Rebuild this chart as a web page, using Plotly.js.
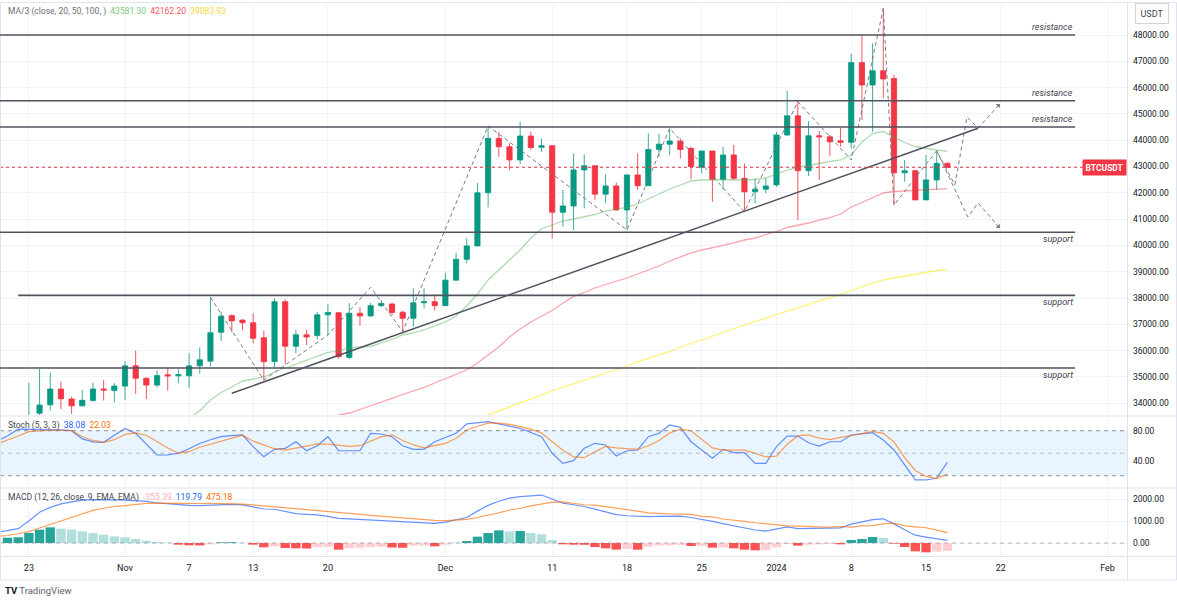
<!DOCTYPE html>
<html><head><meta charset="utf-8">
<script src="https://cdn.plot.ly/plotly-3.0.1.min.js"></script>
<style>html,body{margin:0;padding:0;background:#fff;}#chart{width:1177px;height:604px;}</style>
</head><body><div id="chart"></div>
<script>
// ---------- DATA ----------
const candleStart = '2023-10-23';
const opens = [30000,33620,33940,34540,34160,33900,34100,34540,34480,34650,
35420,34950,34690,35080,35040,35040,35420,35600,36700,37330,
37160,37060,36490,35590,37860,36170,36600,36570,37360,37440,
35740,37420,37320,37710,37770,37460,37230,37820,37860,37710,
38680,39470,39980,42000,44070,43750,43250,44160,43730,43790,
41260,41500,42870,43030,41950,42260,41350,42680,42270,43650,
43850,43970,43690,42970,43590,42510,43440,42550,42040,42140,
42300,44200,44930,42840,44170,44130,43980,43920,46950,46100,
46640,46350,42760,42840,41730,42490,43120];
const highs = [34770,35300,35160,34820,34250,34500,34790,34880,34760,35600,
36000,34980,35260,35360,35290,35900,36120,38030,37480,37380,
37190,37420,36760,37990,37950,36790,36790,37480,37760,37480,
37800,37650,37820,37920,37820,37510,38370,38370,38140,38960,
39720,40270,42380,44540,44320,43880,44700,44320,44070,43790,
42110,43500,43460,43030,42710,42380,42710,43500,44260,44240,
44410,44070,43750,43590,43590,43750,43820,43120,42550,42550,
44320,45880,45530,44730,44350,44200,44480,47280,48000,47680,
49010,46480,43250,42870,43440,43560,43160];
const lows = [29900,32900,33715,33780,33590,33880,34060,34100,34030,34120,
34350,34160,34600,34480,34760,34570,35130,35400,36370,36700,
36790,36280,34880,35370,35480,35900,36210,36430,36590,35700,
35670,36940,37290,37650,37350,36720,36910,37610,37520,37700,
38660,39320,39980,41450,43370,42870,43090,43630,43560,40270,
40710,40590,41410,41730,41620,41320,40590,42110,42270,43370,
43440,43310,42510,42740,41660,42110,42490,41280,41600,41980,
42230,44160,40970,42640,42490,43410,43750,43690,44770,44320,
45590,41540,42420,41730,41730,42110,42960];
const closes = [33080,33930,34540,34170,33900,34110,34540,34500,34650,35420,
34950,34690,35050,35040,35080,35420,35650,36680,37310,37130,
37060,36470,35580,37860,36170,36600,36520,37360,37450,35770,
37420,37320,37710,37790,37450,37230,37820,37860,37710,38680,
39470,39980,42000,44070,43750,43250,44160,43720,43790,41260,
41500,42870,43030,41950,42260,41350,42680,42270,43650,43850,
43970,43650,43000,43590,42510,43440,42550,42040,42140,42260,
44200,44930,42840,44170,44130,43940,43920,46950,46100,46640,
46330,42760,42840,41730,42490,43120,42970];

const ma20Start = '2023-11-07';
const ma20 = [33450,33704,34122,34407,34617,34845,34921,34997,35187,35339,35491,35644,35796,35929,35986,
36100,36138,36157,36290,36423,36594,36670,36784,36936,37089,37317,37697,38153,38686,39065,
39445,39826,40282,40624,40776,40928,41004,41099,41175,41308,41366,41442,41575,41765,41955,
42145,42297,42449,42487,42506,42506,42487,42487,42506,42563,42715,42867,42962,43038,43134,
43190,43248,43438,43932,44255,44331,44122,43913,43761,43685,43628,43581.30];
const ma50Start = '2023-11-21';
const ma50 = [33553,33628,33761,33894,34047,34180,34332,34465,34598,34769,34940,35092,35263,35529,35834,
36138,36518,36822,37089,37317,37526,37811,38050,38210,38381,38514,38628,38761,38913,39065,
39217,39407,39560,39712,39826,39902,39997,40092,40206,40282,40396,40529,40681,40757,40852,
40966,41061,41194,41460,41632,41803,41993,42050,42069,42088,42107,42145,42162.20];
const ma100Start = '2023-12-05';
const ma100 = [33553,33704,33856,34028,34180,34313,34465,34598,34731,34864,34997,35149,35282,35415,35568,
35701,35834,35967,36138,36271,36423,36556,36689,36822,36974,37107,37240,37374,37507,37640,
37773,37887,38001,38134,38286,38438,38571,38685,38761,38837,38913,38989,39046,39083.93];

const oscStart = '2023-10-20';
const stochK = [66,73,82,82,81,81,81,80,69,65,64.5,74,83,76.5,62,47.6,47.6,50,56,63,
68,72,73.5,74.3,58.7,45.3,55.2,56.5,65.3,53.3,60,72,53.3,53.3,53.3,76.5,75.6,72,60,55.2,
55.2,65.3,71,76.5,89,91,92,89,85.6,83.2,77.6,72,49.9,36.5,40,56.5,63.2,61,46.3,53.3,
54.3,72,76.5,87.6,84.5,65.3,54.3,43.2,55.2,50.7,50.7,36.5,36.5,58.7,72.9,72.9,64,59.6,65.3,65.3,
74.3,75.6,77.3,67.6,54.3,34.3,14.3,14.3,16.5,38.08];
const stochD = [62,67,73,78.7,80,80.9,80.5,80,72,67,64.5,68,75,77,74,65,57,50,52,58,
62,66,70,74,66,61,56,54,57,59,62,62,61,59,60,66,72,74.5,67,61,
57,60,63,70,81,86,90,90,88.5,85.5,82,77,66,54,45,44,52,59,57,56,
55,60,67,77,82,80,68,57,54,54,54,50,45,46,62,73,74.5,70,68,71,
73,76,79,76.5,65,44,27,19,16.5,22.03];
const macdLine = [480,560,650,1000,1400,1620,1780,1870,1950,1975,1985,1965,1950,1930,1890,1820,1775,1730,1712,1695,
1725,1760,1760,1737,1650,1545,1535,1450,1340,1305,1280,1210,1120,1100,1076,1060,1040,1000,965,945,
920,895,950,1050,1160,1450,1710,1900,2040,2110,2145,2180,2000,1810,1740,1660,1540,1420,1290,1240,
1210,1200,1210,1220,1222,1160,1080,980,880,780,680,590,540,650,730,650,660,670,680,690,
860,960,1060,1100,870,600,355,270,190,119.79];
const signalLine = [300,340,420,520,680,840,1010,1180,1330,1480,1580,1660,1700,1760,1800,1810,1800,1790,1790,1795,
1800,1795,1780,1770,1730,1680,1640,1600,1560,1520,1470,1420,1380,1340,1300,1260,1220,1190,1160,1110,
1060,1030,1020,1040,1070,1160,1260,1370,1500,1570,1690,1790,1860,1870,1815,1740,1720,1660,1590,1510,
1450,1370,1330,1320,1310,1300,1210,1190,1090,1020,980,920,870,850,775,770,736,731,725,750,
724,778,787,873,900,782,734,694,584,475.18];
const histStart = '2023-10-21';
const histValues = [240,262,455,606,712,652,606,530,455,379,303,258,182,106,45,15,-76,-106,-110,-61,
30,35,15,-76,-197,-152,-227,-242,-250,-182,-175,-303,-242,-212,-182,-167,-205,-215,-121,-118,
-152,-76,8,91,288,455,576,530,545,455,394,136,-61,-76,-80,-182,-242,-303,-273,-303,
-167,-121,-106,-91,-136,-130,-212,-205,-242,-303,-333,-325,-197,-45,-121,-76,-61,-45,-61,136,
182,273,227,-30,-182,-379,-424,-394,-355.39];

// horizontal levels (drawing tools)
const levelPrices = [48000, 45500, 44500, 40500, 38100, 35340];
const levelLabels = ['resistance','resistance','resistance','support','support','support'];
const levelStarts = ['2023-10-20 07:00','2023-10-20 07:00','2023-10-20 07:00','2023-10-20 07:00','2023-10-22 00:00','2023-10-20 07:00'];
const levelEnd = '2024-01-28 23:00';
// trend line
const trendDates = ['2023-11-11 00:00','2024-01-19 21:00'];
const trendPrices = [34378, 44453];
// zigzag pattern
const zzDates = ['2023-11-09','2023-11-14','2023-11-20','2023-11-24','2023-11-27','2023-12-05','2023-12-18','2023-12-22','2023-12-29','2024-01-03','2024-01-08','2024-01-11','2024-01-12','2024-01-16','2024-01-17 17:00'];
const zzPrices = [38027,34880,36594,38408,36720,44540,40586,44453,41282,45464,43248,49015,41537,43601,42297];
const upDates = ['2024-01-17 17:00','2024-01-18 20:00','2024-01-19 21:00','2024-01-21 22:00'];
const upPrices = [42297,44882,44464,45377];
const downDates = ['2024-01-16','2024-01-18 22:00','2024-01-19 21:00','2024-01-21 22:00'];
const downPrices = [43601,41080,41613,40662];

const tickDates = ['2023-10-23','2023-11-01','2023-11-07','2023-11-13','2023-11-20','2023-12-01','2023-12-11','2023-12-18','2023-12-25','2024-01-01','2024-01-08','2024-01-15','2024-01-22','2024-02-01'];
const tickTexts = ['23','Nov','7','13','20','Dec','11','18','25','2024','8','15','22','Feb'];
const priceTicks = [34000,35000,36000,37000,38000,39000,40000,41000,42000,43000,44000,45000,46000,47000,48000];
const stochTicks = [40, 80];
const macdTicks = [0, 1000, 2000];

// ---------- HELPERS ----------
function days(start, n){
  const p = start.split('-').map(Number);
  const t0 = Date.UTC(p[0], p[1]-1, p[2]);
  const out = [];
  for (let i=0;i<n;i++) out.push(new Date(t0 + i*86400000).toISOString().slice(0,10));
  return out;
}
const W = 1127, TOP = 5, BOT = 556, H = BOT - TOP;
const px = p => p / W;
const py = p => (BOT - p) / H;

const cDates = days(candleStart, closes.length);
const oDates = days(oscStart, stochK.length);
const hDates = days(histStart, histValues.length);

const histColors = histValues.map((v,i) => {
  const prev = i>0 ? histValues[i-1] : -Infinity;
  if (v >= 0) return v >= prev ? '#26a69a' : '#b2dfdb';
  return v < prev ? '#ff5252' : '#ffcdd2';
});

const GREEN = '#089981', RED = '#f23645', GRAY = '#787b86', DARK = '#50535e';

const traces = [
  {type:'scatter', mode:'lines', x:days(ma100Start, ma100.length), y:ma100, line:{color:'rgba(255,235,59,0.7)', width:1.3}, xaxis:'x', yaxis:'y', hoverinfo:'skip'},
  {type:'scatter', mode:'lines', x:days(ma50Start, ma50.length), y:ma50, line:{color:'rgba(242,54,69,0.45)', width:1.3}, xaxis:'x', yaxis:'y', hoverinfo:'skip'},
  {type:'scatter', mode:'lines', x:days(ma20Start, ma20.length), y:ma20, line:{color:'rgba(76,175,80,0.45)', width:1.3}, xaxis:'x', yaxis:'y', hoverinfo:'skip'},
  {type:'candlestick', x:cDates, open:opens, high:highs, low:lows, close:closes, xaxis:'x', yaxis:'y',
   increasing:{line:{color:'rgba(8,153,129,0.8)', width:1}, fillcolor:GREEN},
   decreasing:{line:{color:'rgba(242,54,69,0.85)', width:1}, fillcolor:RED},
   whiskerwidth:0, hoverinfo:'skip'},
  {type:'scatter', mode:'lines', x:zzDates, y:zzPrices, line:{color:GRAY, width:1, dash:'4px,3px'}, xaxis:'x', yaxis:'y', hoverinfo:'skip'},
  {type:'scatter', mode:'lines', x:upDates, y:upPrices, line:{color:GRAY, width:1, dash:'4px,3px'}, xaxis:'x', yaxis:'y', hoverinfo:'skip'},
  {type:'scatter', mode:'lines', x:downDates, y:downPrices, line:{color:GRAY, width:1, dash:'4px,3px'}, xaxis:'x', yaxis:'y', hoverinfo:'skip'},
  {type:'scatter', mode:'lines', x:trendDates, y:trendPrices, line:{color:DARK, width:1.5}, xaxis:'x', yaxis:'y', hoverinfo:'skip'},
  // stochastic
  {type:'scatter', mode:'lines', x:oDates, y:stochK, line:{color:'rgba(41,98,255,0.7)', width:1.2}, xaxis:'x', yaxis:'y2', hoverinfo:'skip'},
  {type:'scatter', mode:'lines', x:oDates, y:stochD, line:{color:'rgba(255,109,0,0.65)', width:1.2}, xaxis:'x', yaxis:'y2', hoverinfo:'skip'},
  // MACD
  {type:'bar', x:hDates, y:histValues, marker:{color:histColors, line:{width:0}}, xaxis:'x', yaxis:'y3', hoverinfo:'skip'},
  {type:'scatter', mode:'lines', x:oDates, y:macdLine, line:{color:'rgba(41,98,255,0.7)', width:1.2}, xaxis:'x', yaxis:'y3', hoverinfo:'skip'},
  {type:'scatter', mode:'lines', x:oDates, y:signalLine, line:{color:'rgba(255,109,0,0.65)', width:1.2}, xaxis:'x', yaxis:'y3', hoverinfo:'skip'}
];

const lastClose = closes[closes.length-1];
const SEP = '#e0e3eb';
const shapes = [
  {type:'rect', xref:'paper', x0:0, x1:1, yref:'y2', y0:20, y1:80, fillcolor:'rgba(33,150,243,0.1)', line:{width:0}, layer:'below'},
  {type:'line', xref:'paper', x0:0, x1:1, yref:'y2', y0:80, y1:80, line:{color:'rgba(120,123,134,0.8)', width:1, dash:'4px,4px'}},
  {type:'line', xref:'paper', x0:0, x1:1, yref:'y2', y0:50, y1:50, line:{color:'rgba(120,123,134,0.45)', width:1, dash:'4px,4px'}},
  {type:'line', xref:'paper', x0:0, x1:1, yref:'y2', y0:20, y1:20, line:{color:'rgba(120,123,134,0.8)', width:1, dash:'4px,4px'}},
  {type:'line', xref:'paper', x0:0, x1:1, yref:'y3', y0:0, y1:0, line:{color:'rgba(120,123,134,0.55)', width:1, dash:'4px,4px'}},
  {type:'line', xref:'paper', x0:0, x1:1, yref:'y', y0:lastClose, y1:lastClose, line:{color:RED, width:1, dash:'dot'}},
  // pane separators and frame
  {type:'line', xref:'paper', yref:'paper', x0:0, x1:px(1176), y0:py(416), y1:py(416), line:{color:SEP, width:1}},
  {type:'line', xref:'paper', yref:'paper', x0:0, x1:px(1176), y0:py(488), y1:py(488), line:{color:SEP, width:1}},
  {type:'line', xref:'paper', yref:'paper', x0:0, x1:px(1176), y0:py(556.5), y1:py(556.5), line:{color:SEP, width:1}},
  {type:'line', xref:'paper', yref:'paper', x0:px(1127.5), x1:px(1127.5), y0:py(580), y1:py(2), line:{color:SEP, width:1}},
  {type:'rect', xref:'paper', yref:'paper', x0:px(0.5), x1:px(1176.5), y0:py(580), y1:py(2.5), line:{color:SEP, width:1}, fillcolor:'rgba(0,0,0,0)'}
];
levelPrices.forEach((p,i) => {
  shapes.push({type:'line', xref:'x', yref:'y', x0:levelStarts[i], x1:levelEnd, y0:p, y1:p, line:{color:DARK, width:1.6}});
});

const annotations = [];
levelPrices.forEach((p,i) => {
  const res = levelLabels[i] === 'resistance';
  annotations.push({xref:'x', yref:'y', x:levelEnd, y:p, text:levelLabels[i], showarrow:false,
    xanchor:'right', yanchor: res ? 'bottom' : 'top', yshift: res ? 1 : 0,
    font:{size:9, color:'#434651', style:'italic'}});
});
annotations.push({xref:'paper', yref:'y', x:1, y:lastClose, xanchor:'right', yanchor:'middle', showarrow:false,
  text:'<b>BTCUSDT</b>', font:{size:8.5, color:'#ffffff'}, bgcolor:RED, borderpad:2.5});
annotations.push({xref:'paper', yref:'paper', x:px(1152), y:py(14), xanchor:'center', yanchor:'middle', showarrow:false,
  text:'USDT', font:{size:9, color:'#434651'}, bgcolor:'#ffffff', bordercolor:'#d1d4dc', borderwidth:1, borderpad:4.5});
const f2 = v => v.toFixed(2);
annotations.push({xref:'paper', yref:'paper', x:px(6), y:py(12), xanchor:'left', yanchor:'middle', showarrow:false,
  text:'<span style="color:#6a6d78">MA/3 (close, 20, 50, 100, )</span>  <span style="color:#81c784">'+f2(ma20[ma20.length-1])+'</span>  <span style="color:#f7525f">'+f2(ma50[ma50.length-1])+'</span>  <span style="color:#fdd835">'+f2(ma100[ma100.length-1])+'</span>',
  font:{size:8.5}});
annotations.push({xref:'paper', yref:'paper', x:px(6), y:py(425), xanchor:'left', yanchor:'middle', showarrow:false,
  text:'<span style="color:#434651">Stoch (5, 3, 3)</span>  <span style="color:#2962ff">'+f2(stochK[stochK.length-1])+'</span>  <span style="color:#ff6d00">'+f2(stochD[stochD.length-1])+'</span>',
  font:{size:8.5}});
annotations.push({xref:'paper', yref:'paper', x:px(6), y:py(497), xanchor:'left', yanchor:'middle', showarrow:false,
  text:'<span style="color:#434651">MACD (12, 26, close, 9, EMA, EMA)</span>  <span style="color:#ffb3ba">'+f2(histValues[histValues.length-1])+'</span>  <span style="color:#2962ff">'+f2(macdLine[macdLine.length-1])+'</span>  <span style="color:#ff6d00">'+f2(signalLine[signalLine.length-1])+'</span>',
  font:{size:8.5}});
annotations.push({xref:'x', yref:'y', x:upDates[upDates.length-1], y:upPrices[upPrices.length-1], ax:-5, ay:5, text:'', showarrow:true, arrowhead:1, arrowsize:1, arrowwidth:1, arrowcolor:GRAY});
annotations.push({xref:'x', yref:'y', x:downDates[downDates.length-1], y:downPrices[downPrices.length-1], ax:-5, ay:-5, text:'', showarrow:true, arrowhead:1, arrowsize:1, arrowwidth:1, arrowcolor:GRAY});
annotations.push({xref:'paper', yref:'paper', x:px(3), y:py(590), xanchor:'left', yanchor:'middle', showarrow:false,
  text:'<b><span style="color:#131722">TV</span></b> <span style="color:#5d606b">TradingView</span>', font:{size:9.5}});

const GRID = '#f0f3fa';
const yBase = {side:'right', anchor:'x', zeroline:false, showline:false, ticks:'', gridcolor:GRID, tickformat:'.2f',
  tickfont:{size:8.5, color:'#131722'}, ticklabelstandoff:5, fixedrange:true};
const layout = {
  width:1177, height:604,
  margin:{l:0, r:50, t:TOP, b:604-BOT},
  paper_bgcolor:'#ffffff', plot_bgcolor:'#ffffff',
  font:{family:'Roboto, "Noto Sans", sans-serif', size:8.5, color:'#131722'},
  showlegend:false, bargap:0.12, dragmode:false,
  xaxis:{type:'date', anchor:'y3', range:['2023-10-20 07:06','2024-02-02 19:40'], tickvals:tickDates, ticktext:tickTexts,
    showgrid:true, gridcolor:GRID, zeroline:false, showline:false, ticks:'', tickfont:{size:9, color:'#131722'},
    ticklabelstandoff:5, rangeslider:{visible:false}, fixedrange:true},
  yaxis:Object.assign({}, yBase, {domain:[py(415), 1], range:[33552, 49141], tickvals:priceTicks}),
  yaxis2:Object.assign({}, yBase, {domain:[py(487), py(417)], range:[4.93, 98.27], tickvals:stochTicks}),
  yaxis3:Object.assign({}, yBase, {domain:[0, py(489)], range:[-591, 2455], tickvals:macdTicks}),
  shapes:shapes, annotations:annotations
};
Plotly.newPlot('chart', traces, layout, {displayModeBar:false, staticPlot:true});
</script>
</body></html>
